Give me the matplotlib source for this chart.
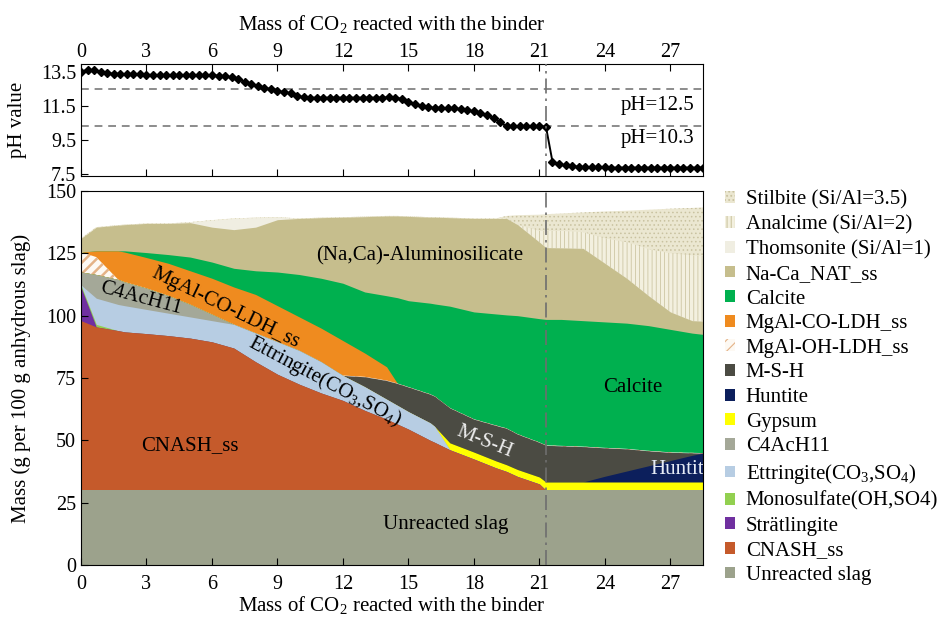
import numpy as np
import matplotlib
matplotlib.use("Agg")
import matplotlib.pyplot as plt
from matplotlib.patches import Patch

plt.rcParams['font.family'] = 'Liberation Serif'
plt.rcParams['mathtext.fontset'] = 'custom'
plt.rcParams['mathtext.rm'] = 'Liberation Serif'
plt.rcParams['mathtext.default'] = 'regular'
plt.rcParams['hatch.linewidth'] = 0.8

# pH of the pore solution, one reading every 0.3 g CO2
ph_co2 = np.round(np.arange(96) * 0.3, 1)
ph = [13.55, 13.65, 13.63, 13.50, 13.45, 13.42, 13.42, 13.40, 13.38, 13.38,
      13.36, 13.35, 13.34, 13.33, 13.32, 13.32, 13.32, 13.32, 13.32, 13.32,
      13.32, 13.31, 13.28, 13.20, 13.08, 12.95, 12.80, 12.68, 12.58, 12.50,
      12.40, 12.32, 12.25, 12.12, 12.02, 12.00, 12.00, 12.00, 12.00, 12.00,
      12.00, 12.00, 12.00, 12.00, 12.00, 12.00, 12.00, 12.02, 12.00, 11.92,
      11.75, 11.60, 11.48, 11.42, 11.40, 11.40, 11.38, 11.36, 11.32, 11.26,
      11.18, 11.08, 10.95, 10.80, 10.55, 10.30, 10.30, 10.30, 10.30, 10.30,
      10.30, 10.28, 8.20, 8.05, 7.98, 7.93, 7.90, 7.88, 7.87, 7.86,
      7.86, 7.85, 7.85, 7.85, 7.85, 7.85, 7.85, 7.85, 7.85, 7.85,
      7.85, 7.85, 7.85, 7.85, 7.85, 7.85]

# phase assemblage (g per 100 g anhydrous slag) vs CO2 reacted
co2 = [0, 0.7, 1.7, 2, 3, 4, 5, 6, 7, 8, 9, 10, 11, 12, 13, 14, 14.5, 15, 16,
       16.2, 16.9, 18, 19, 19.5, 20, 21, 21.3, 22, 23, 24, 25, 26, 27, 28, 28.5]
slag = [30] * 35
cnash = [68, 65.5, 64, 63.5, 62.8, 62, 61, 59.5, 57, 51.5, 46.5, 42.5, 39, 36,
         32, 28.5, 26.5, 24.5, 20, 19.2, 16.2, 12.5, 9, 7.5, 5.5, 2.5] + [0] * 9
stratlingite = [13.5] + [0] * 34
monosulfate = [0.8, 1] + [0] * 33
ettringite = [0, 10.5, 10.5, 10.5, 9.7, 9, 8.5, 8.5, 9.5, 11.5, 13, 13.5, 12.5,
              10, 9.5, 8, 7.5, 7, 7, 6.4] + [0] * 15
c4ach11 = [5.2, 9.5, 10, 9.5, 8.5, 7, 5, 2.5] + [0] * 27
gypsum = [0] * 20 + [2.8, 2.8, 2.8, 2.7, 2.8, 2.8] + [3.3] * 9
huntite = [0] * 29 + [2.3, 4.4, 6.5, 8.6, 10.7, 11.6]
msh = [0] * 14 + [4, 7.5, 8.8, 9.9, 11.5, 12.1, 14, 13.2, 14.2, 14.6, 14.2,
                  13.9, 14.7, 14.5, 14.2, 11.4, 8.9, 6.0, 3.3, 1.0, 0]
oh_ldh = [8, 7] + [0] * 33
co_ldh = [0, 2.5, 11.5, 12, 12.3, 13, 13.5, 14.5, 15, 15.5, 14.5, 13.5, 13.5,
          14, 9.5, 5.5] + [0] * 19
calcite = [0, 0, 0, 0.5, 2, 3.5, 5.5, 6.5, 7.5, 9.5, 13.5, 17, 20, 23, 24.5,
           28.5, 34.4, 34.6, 36.5, 37, 40.8, 43, 44.7, 45.5, 47.5, 49.6, 50.5,
           50.7, 50.5, 50.5, 50.4, 50.2, 49.3, 48, 47.6]
nat = [5.5, 9.5, 10.3, 10.5, 11.7, 12.5, 13.8, 14, 15.5, 17.5, 21, 22.5, 24.3,
       26.5, 30.2, 32, 32.8, 33.8, 34.5, 34.8, 35.5, 37.5, 38.3, 38.7, 36.5,
       30.7, 28.8, 28.7, 29, 23.5, 18, 12, 7, 5, 5.3]
thomsonite = [0] * 6 + [0.2, 2.8, 4.5, 3.8, 1.0] + [0] * 24
analcime = [0] * 25 + [4.5, 6.7, 6.8, 6.5, 10, 14.5, 18.7, 23.5, 26.2, 26.2]
stilbite = [0] * 23 + [1, 3.8, 6.5, 6.7, 7, 7.9, 10.8, 12.6, 15.8, 17.9, 19,
                       19.4]

layers = [slag, cnash, stratlingite, monosulfate, ettringite, c4ach11, gypsum,
          huntite, msh, oh_ldh, co_ldh, calcite, nat, thomsonite, analcime,
          stilbite]
names = ["Unreacted slag", "CNASH_ss", "Strätlingite", "Monosulfate(OH,SO4)",
         "Ettringite(CO$_3$,SO$_4$)", "C4AcH11", "Gypsum", "Huntite", "M-S-H",
         "MgAl-OH-LDH_ss", "MgAl-CO-LDH_ss", "Calcite", "Na-Ca_NAT_ss",
         "Thomsonite (Si/Al=1)", "Analcime (Si/Al=2)", "Stilbite (Si/Al=3.5)"]
# (face colour, hatch, hatch colour, hatch width)
styles = [("#9ca28c", None, None, 0), ("#c55a2b", None, None, 0),
          ("#7030a0", None, None, 0), ("#92d050", None, None, 0),
          ("#b7cde3", None, None, 0), ("#a4a898", None, None, 0),
          ("#ffff00", None, None, 0), ("#0c1f5c", None, None, 0),
          ("#4b4b43", None, None, 0), ("#fdf9f3", "///", "#e4b286", 1.8),
          ("#ef8b1f", None, None, 0), ("#00b04f", None, None, 0),
          ("#c6be8d", None, None, 0), ("#f0eee2", None, None, 0),
          ("#f3f0df", "||||", "#cdc6a3", 0.6),
          ("#ebe7d1", "....", "#c9c2a0", 0.6)]

fig = plt.figure(figsize=(9.44, 6.26), dpi=100)
ax1 = fig.add_axes([0.0858, 0.7188, 0.659, 0.179])
ax2 = fig.add_axes([0.0858, 0.0974, 0.659, 0.5975])

# --- pH panel ---
ax1.plot(ph_co2, ph, color="black", lw=1.4, marker="D", ms=4, zorder=3)
for level in (12.5, 10.3):
    ax1.axhline(level, color="#8c8c8c", lw=1.4, ls=(0, (4, 3)), zorder=1)
ax1.text(28.1, 11.56, "pH=12.5", ha="right", va="center", fontsize=15)
ax1.text(28.1, 9.6, "pH=10.3", ha="right", va="center", fontsize=15)
ax1.set_xlim(0, 28.5)
ax1.set_ylim(7.35, 14.0)
ax1.set_yticks([7.5, 9.5, 11.5, 13.5])
ax1.set_xticks(range(0, 28, 3))
ax1.tick_params(axis="x", top=True, bottom=True, labeltop=True,
                labelbottom=False, direction="in", length=5, labelsize=14.5,
                pad=1.5)
ax1.tick_params(axis="y", direction="in", length=5, labelsize=14.5)
ax1.xaxis.set_label_position("top")
ax1.set_xlabel("Mass of CO$_2$ reacted with the binder", fontsize=15,
               labelpad=9)
ax1.set_ylabel("pH value", fontsize=15)
ax1.yaxis.set_label_coords(-0.087, 0.5)

# --- phase assemblage panel ---
tops = np.cumsum(np.array(layers, dtype=float), axis=0)
for i in reversed(range(len(layers))):
    face, hatch, hcol, hlw = styles[i]
    with plt.rc_context({"hatch.color": hcol or face,
                         "hatch.linewidth": hlw or 0.8}):
        ax2.fill_between(co2, 0, tops[i], facecolor=face, hatch=hatch,
                         edgecolor=hcol or face, linewidth=0)

ax2.text(15.5, 124, "(Na,Ca)-Aluminosilicate", ha="center", va="center",
         fontsize=15)
ax2.text(6.6, 103, "MgAl-CO-LDH_ss", ha="center", va="center", fontsize=15,
         rotation=-26)
ax2.text(2.75, 107, "C4AcH11", ha="center", va="center", fontsize=15,
         rotation=-15)
ax2.text(11.2, 73.5, "Ettringite(CO$_3$,SO$_4$)", ha="center", va="center",
         fontsize=15, rotation=-28)
ax2.text(18.5, 49.5, "M-S-H", ha="center", va="center", fontsize=15,
         rotation=-22, color="#ececec")
ax2.text(25.26, 71.2, "Calcite", ha="center", va="center", fontsize=15)
ax2.text(5.0, 47.8, "CNASH_ss", ha="center", va="center", fontsize=15)
ax2.text(16.7, 16.1, "Unreacted slag", ha="center", va="center", fontsize=15)
ax2.text(26.1, 38.2, "Huntite", ha="left", va="center", fontsize=15,
         color="#e6ecf6", clip_on=True)

ax2.set_xlim(0, 28.5)
ax2.set_ylim(0, 150)
ax2.set_xticks(range(0, 28, 3))
ax2.set_yticks(range(0, 151, 25))
ax2.tick_params(axis="x", direction="in", length=5, labelsize=14.5, pad=7)
ax2.tick_params(axis="y", direction="in", length=5, labelsize=14.5)
ax2.set_xlabel("Mass of CO$_2$ reacted with the binder", fontsize=15,
               labelpad=0)
ax2.set_ylabel("Mass (g per 100 g anhydrous slag)", fontsize=15)
ax2.yaxis.set_label_coords(-0.08, 0.5)

for ax in (ax1, ax2):
    ax.axvline(21.3, color="#6e6e6e", lw=1.2, ls=(0, (9, 3, 1.5, 3)),
               zorder=4)

handles = []
for (face, hatch, hcol, hlw) in styles:
    handles.append(Patch(facecolor=face, hatch=hatch,
                         edgecolor=hcol or face, linewidth=0))
fig.legend(handles[::-1], names[::-1], loc="upper left",
           bbox_to_anchor=(0.768, 0.696), frameon=False, fontsize=15,
           handlelength=0.5, handleheight=0.5, handletextpad=0.5,
           labelspacing=0.27, borderpad=0, borderaxespad=0)

fig.savefig("out.png", dpi=100)
